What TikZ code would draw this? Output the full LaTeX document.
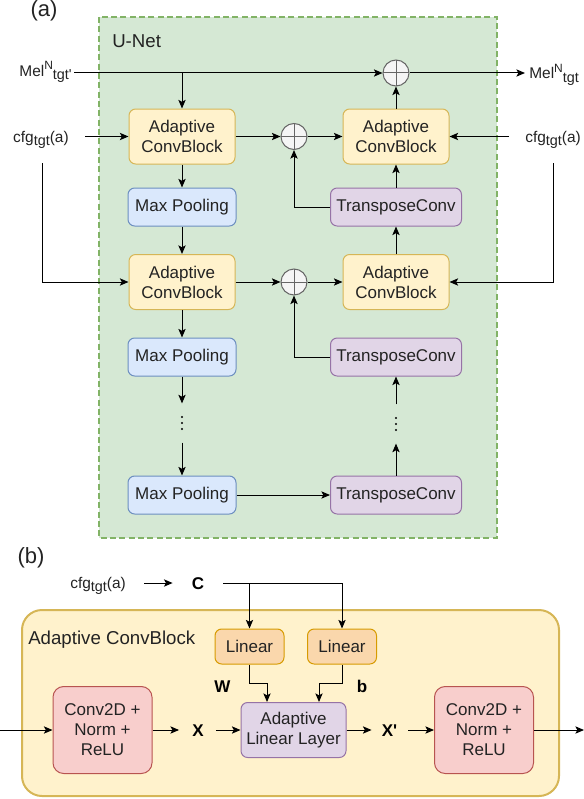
\documentclass[tikz,border=0pt]{standalone}
\usepackage{fontspec}
\setmainfont{Liberation Sans}[Ligatures=TeXOff]
\usetikzlibrary{arrows.meta,calc}

\definecolor{txt}{RGB}{35,35,35}
\definecolor{grnF}{HTML}{D5E8D4}\definecolor{grnD}{HTML}{82B366}
\definecolor{ylwF}{HTML}{FFF2CC}\definecolor{ylwD}{HTML}{D6B656}
\definecolor{bluF}{HTML}{DAE8FC}\definecolor{bluD}{HTML}{6C8EBF}
\definecolor{purF}{HTML}{E1D5E7}\definecolor{purD}{HTML}{9673A6}
\definecolor{orgF}{HTML}{FAD7AC}\definecolor{orgD}{HTML}{D79B00}
\definecolor{redF}{HTML}{F8CECC}\definecolor{redD}{HTML}{B85450}
\definecolor{sumF}{HTML}{F5F5F5}\definecolor{sumD}{HTML}{666666}

% small raised / lowered text for the signal names
\newcommand{\lsub}[1]{\raisebox{-0.25em}{\fontsize{10.8pt}{10.8pt}\selectfont #1}}
\newcommand{\lsup}[1]{\raisebox{0.45em}{\fontsize{9pt}{9pt}\selectfont #1}}

\tikzset{
  box/.style={draw, rounded corners=5pt, line width=0.75pt, inner sep=0pt,
    align=center, text=txt, font=\fontsize{12.75pt}{15pt}\selectfont},
  acb/.style={box, fill=ylwF, draw=ylwD, minimum width=79.5pt, minimum height=41.25pt},
  pool/.style={box, fill=bluF, draw=bluD, minimum width=81pt, minimum height=28.5pt},
  tconv/.style={box, fill=purF, draw=purD, minimum width=98.25pt, minimum height=28.5pt},
  linr/.style={box, fill=orgF, draw=orgD, minimum width=51.75pt, minimum height=26.25pt},
  convb/.style={box, fill=redF, draw=redD, minimum width=74.25pt, minimum height=65.25pt, rounded corners=8pt},
  alin/.style={box, fill=purF, draw=purD, minimum width=78.75pt, minimum height=41.25pt},
  lbl/.style={inner sep=0pt, text=txt, font=\fontsize{11.6pt}{13pt}\selectfont},
  sym/.style={inner sep=0pt, text=black, font=\fontsize{12.75pt}{15pt}\selectfont\bfseries,
    text height=9pt, text depth=0pt},
  hdr/.style={inner sep=0pt, text=txt, font=\fontsize{14pt}{16pt}\selectfont},
  tagl/.style={inner sep=0pt, text=txt, font=\fontsize{16.5pt}{18pt}\selectfont},
  plusnode/.style={circle, draw=sumD, fill=sumF, line width=0.75pt, minimum size=19.5pt,
    inner sep=0pt, path picture={
      \draw[sumD, line width=0.75pt]
        (path picture bounding box.north) -- (path picture bounding box.south)
        (path picture bounding box.west) -- (path picture bounding box.east);}},
  dotcol/.style={inner sep=0pt, minimum width=6pt, minimum height=29pt},
  wire/.style={line width=0.75pt, draw=black},
  arr/.style={wire, -{Stealth[length=6.5pt,width=5.5pt,inset=1.5pt]}},
}

\begin{document}
\begin{tikzpicture}[x=0.75pt,y=-0.75pt]
\useasboundingbox (0,0) rectangle (584,799);

% ---------------- (a) U-Net ----------------
\node[tagl, anchor=base] (taga) at (44,17) {(a)};
\draw[grnD, fill=grnF, line width=1.5pt, dash pattern=on 4.5pt off 2.5pt]
  (99,17) rectangle (497,538);
\node[hdr, anchor=base west] (unetlbl) at (112,48) {U-Net};

\node[lbl, anchor=base east] (melin) at (72,76) {Mel\lsup{N}\lsub{tgt'}};
\node[lbl, anchor=base west] (melout) at (529,79) {Mel\lsup{N}\lsub{tgt}};
\node[lbl, anchor=base east] (cfgL) at (69,142) {cfg\lsub{tgt}(a)};
\node[lbl, anchor=base west] (cfgR) at (525,142) {cfg\lsub{tgt}(a)};

\node[plusnode] (sum0) at (396,73) {};
\node[plusnode] (sum1) at (294,136.5) {};
\node[plusnode] (sum2) at (294,282) {};

\node[acb] (accL1) at (182,136.5) {Adaptive\\ConvBlock};
\node[acb] (accR1) at (396,136.5) {Adaptive\\ConvBlock};
\node[pool] (mp1) at (182,207) {Max Pooling};
\node[tconv] (tc1) at (396,207) {TransposeConv};
\node[acb] (accL2) at (182,282) {Adaptive\\ConvBlock};
\node[acb] (accR2) at (396,282) {Adaptive\\ConvBlock};
\node[pool] (mp2) at (182,357) {Max Pooling};
\node[tconv] (tc2) at (396,357) {TransposeConv};
\node[dotcol] (dotsL) at (182,423) {};
\node[dotcol] (dotsR) at (396,424) {};
\node[pool] (mp3) at (182,495) {Max Pooling};
\node[tconv] (tc3) at (396,495) {TransposeConv};

\foreach \d in {-6,0,6} {
  \fill (dotsL.center) ++(0,\d) circle (0.8pt);
  \fill (dotsR.center) ++(0,\d) circle (0.8pt);
}

\coordinate (cfgLdrop) at (42,163);
\coordinate (cfgRdrop) at (553,163);

% skip path of the input spectrogram
\draw[arr] ($(melin.east |- sum0)+(2,0)$) -- (sum0.west);
\draw[arr] (accL1.north |- sum0) -- (accL1.north);
\draw[arr] (sum0.east) -- ($(melout.west |- sum0)+(-4,0)$);

% conditioning inputs
\draw[arr] ($(cfgL.east |- accL1.west)+(16,0)$) -- (accL1.west);
\draw[arr] (cfgLdrop) |- (accL2.west);
\draw[arr] ($(cfgR.west |- accR1.east)+(-16,0)$) -- (accR1.east);
\draw[arr] (cfgRdrop) |- (accR2.east);

% encoder
\draw[arr] (accL1) -- (mp1);
\draw[arr] (mp1) -- (accL2);
\draw[arr] (accL2) -- (mp2);
\draw[arr] (mp2) -- (dotsL);
\draw[arr] (dotsL) -- (mp3);
\draw[arr] (mp3) -- (tc3);

% decoder
\draw[arr] (tc3) -- (dotsR);
\draw[arr] (dotsR) -- (tc2);
\draw[arr] (accR2) -- (tc1);
\draw[arr] (tc1) -- (accR1);
\draw[arr] (accR1) -- (sum0);

% skip connections
\draw[arr] (accL1) -- (sum1);
\draw[arr] (sum1) -- (accR1);
\draw[arr] (tc1.west) -| (sum1.south);
\draw[arr] (accL2) -- (sum2);
\draw[arr] (sum2) -- (accR2);
\draw[arr] (tc2.west) -| (sum2.south);

% ---------------- (b) Adaptive ConvBlock ----------------
\node[tagl, anchor=base] (tagb) at (31,563) {(b)};
\node[draw=ylwD, fill=ylwF, line width=1.5pt, rounded corners=15pt,
      minimum width=402.75pt, minimum height=139.5pt, inner sep=0pt] (acbBig) at (290.5,703) {};
\node[hdr, anchor=base west] (acbLbl) at (28,644) {Adaptive ConvBlock};

\node[lbl, anchor=base west] (cfgB) at (70,588) {cfg\lsub{tgt}(a)};
\node[sym] (cvec) at (198,583) {C};

\node[linr] (lin1) at (249.5,646.5) {Linear};
\node[linr] (lin2) at (342,646.5) {Linear};
\node[sym] (wlbl) at (222.5,686) {W};
\node[sym] (blbl) at (362,686) {b};

\node[convb] (convL) at (102.5,730) {Conv2D +\\Norm +\\ReLU};
\node[alin] (alin) at (293.5,730) {Adaptive\\Linear Layer};
\node[convb] (convR) at (484,730) {Conv2D +\\Norm +\\ReLU};
\node[sym] (xin) at (198,730) {X};
\node[sym] (xout) at (389.5,730) {X'};

\coordinate (inB) at (0,730);
\coordinate (outB) at (584,730);

\draw[arr] ($(cfgB.east |- cvec)+(18,0)$) -- ($(cvec.west)+(-19,0)$);
\draw[arr] ($(cvec.east)+(19,0)$) -| (lin2.north);
\draw[arr] (lin1.north |- cvec) -- (lin1.north);
\draw[arr] (lin1.south) -- ++(0,19) -| ($(alin.north)+(-26.5,0)$);
\draw[arr] (lin2.south) -- ++(0,19) -| ($(alin.north)+(25.5,0)$);

\draw[arr] (inB) -- (convL.west);
\draw[arr] (convL.east) -- ($(xin.west |- convL.east)+(-13,0)$);
\draw[arr] ($(xin.east |- alin.west)+(12,0)$) -- (alin.west);
\draw[arr] (alin.east) -- ($(xout.west |- alin.east)+(-10,0)$);
\draw[arr] ($(xout.east |- convR.west)+(11,0)$) -- (convR.west);
\draw[arr] (convR.east) -- (outB);
\end{tikzpicture}
\end{document}
